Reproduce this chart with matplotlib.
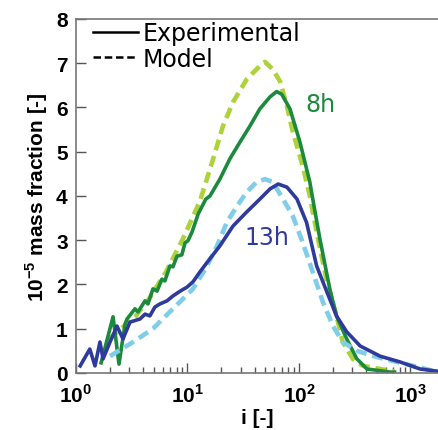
import numpy as np
import matplotlib.pyplot as plt
from matplotlib.lines import Line2D

# --[Data]----------------------------------------------------------------------
exp8_i = [1.68, 2.15, 2.43, 2.75, 2.87, 3.38, 3.6, 4.16, 4.42, 4.9, 5.33, 5.9, 6.27, 6.96, 7.41,
          8.05, 8.9, 9.5, 10.1, 11.0, 12.5, 14.6, 15.9, 19.5, 24,
          29.6, 36.3, 44.6, 55, 63, 70, 83, 102, 125, 133, 154, 189, 217, 268, 330, 408, 655, 720]
exp8_w = [0.23, 1.27, 0.2, 1.1, 1.22, 1.45, 1.38, 1.63, 1.56, 1.9, 1.85, 2.12, 2.08, 2.42, 2.4,
          2.64, 2.67, 2.94, 2.99, 3.19, 3.6, 3.93, 4.0, 4.38, 4.84,
          5.22, 5.58, 5.97, 6.24, 6.36, 6.3, 5.97, 5.22, 4.32, 3.93, 3.03, 1.9, 1.29, 0.77, 0.32, 0.09, 0.02, 0.02]

mod8_i = [1.98, 3.45, 4.5, 6.4, 9.1, 13.0, 17, 20.8, 25.6, 34, 44.6, 49.5, 58, 68, 78, 88, 108,
          125, 144, 178, 217, 247, 304, 375, 534, 720]
mod8_w = [0.77, 1.29, 1.67, 2.28, 3.03, 3.9, 4.84, 5.58, 6.12, 6.64, 6.94, 7.03, 6.87, 6.58, 6.03,
          5.45, 4.68, 4.0, 3.19, 2.06, 1.29, 0.7, 0.32, 0.16, 0.09, 0.04]

exp13_i = [1.09, 1.33, 1.48, 1.64, 1.75, 2.02, 2.33, 2.64, 3.05, 3.75, 4.16, 4.6, 5.1, 5.66, 6.55,
           7.4, 8.6, 9.9, 11.2, 12.9, 15, 19.5, 25.6, 34, 44.6, 55, 65, 78, 96, 117, 144, 178, 217,
           268, 354, 534, 805, 1220, 1740]
exp13_w = [0.16, 0.54, 0.16, 0.7, 0.32, 0.7, 1.06, 0.77, 1.15, 1.22, 1.33, 1.29, 1.49, 1.56, 1.63,
           1.74, 1.85, 1.94, 2.06, 2.28, 2.5, 2.87, 3.32, 3.64, 3.93, 4.16, 4.27, 4.2, 3.93, 3.4,
           2.42, 1.83, 1.29, 0.93, 0.61, 0.38, 0.25, 0.09, 0.04]

mod13_i = [2.02, 3.25, 4.9, 7.4, 11.2, 15, 18.4, 22.6, 27.8, 34, 41.9, 49.5, 58, 72, 88, 108, 133,
           164, 202, 247, 330, 500, 755, 1140, 1590]
mod13_w = [0.38, 0.7, 1.0, 1.45, 1.9, 2.42, 2.87, 3.41, 3.77, 4.09, 4.32, 4.38, 4.32, 3.93, 3.55,
           2.95, 2.28, 1.6, 1.06, 0.7, 0.5, 0.36, 0.25, 0.14, 0.05]

x_ticks = [1, 10, 100, 1000]
x_labels = [r'10$^{\mathbf{0}}$', r'10$^{\mathbf{1}}$', r'10$^{\mathbf{2}}$', r'10$^{\mathbf{3}}$']
y_ticks = [0, 1, 2, 3, 4, 5, 6, 7, 8]

# --[Plot]----------------------------------------------------------------------
plt.rcParams['font.family'] = ['Liberation Sans', 'DejaVu Sans']
plt.rcParams['mathtext.fontset'] = 'custom'
plt.rcParams['mathtext.rm'] = 'Liberation Sans:bold'
plt.rcParams['mathtext.bf'] = 'Liberation Sans:bold'

fig = plt.figure(figsize=(4.38, 4.31), dpi=100)
ax = fig.add_axes([0.1735, 0.1323, 0.8265, 0.8213])

dark_green = '#1b8a3c'
light_green = '#aed23a'
dark_blue = '#2f3b9c'
light_blue = '#80cdea'

ax.plot(mod8_i, mod8_w, color=light_green, lw=3.3, ls=(0, (2.4, 1.3)))
ax.plot(exp8_i, exp8_w, color=dark_green, lw=2.6)
ax.plot(mod13_i, mod13_w, color=light_blue, lw=3.3, ls=(0, (2.4, 1.3)))
ax.plot(exp13_i, exp13_w, color=dark_blue, lw=2.6)

ax.set_xscale('log')
ax.set_xlim(1, 10 ** 3.247)
ax.set_ylim(0, 8)
ax.set_xticks(x_ticks)
ax.set_xticklabels(x_labels, fontsize=15, fontweight='bold')
ax.set_yticks(y_ticks)
ax.set_yticklabels([str(v) for v in y_ticks], fontsize=15, fontweight='bold')

ax.tick_params(which='major', direction='in', length=7, width=1, color='#555555')
ax.tick_params(which='minor', direction='in', length=4, width=1, color='#555555')
ax.tick_params(axis='x', which='major', pad=7)
ax.tick_params(axis='y', which='major', pad=6)
ax.tick_params(axis='y', which='minor', left=False)

for s in ['left', 'bottom', 'top']:
    ax.spines[s].set_color('#777777')
    ax.spines[s].set_linewidth(1.2)
ax.spines['right'].set_visible(False)

ax.set_xlabel('i [-]', fontsize=15, fontweight='bold', labelpad=2)
ax.set_ylabel(r'10$^{\mathbf{-5}}$ mass fraction [-]', fontsize=15, fontweight='bold', labelpad=4)

handles = [Line2D([], [], color='black', lw=1.8),
           Line2D([], [], color='black', lw=1.8, ls=(0, (3, 1.5)))]
ax.legend(handles, ['Experimental', 'Model'], loc='upper left', frameon=False,
          prop={'family': 'DejaVu Sans', 'size': 17}, handlelength=1.9, handletextpad=0.2,
          labelspacing=0.05, borderaxespad=0.0, bbox_to_anchor=(0.02, 1.02))

ax.text(113, 6.08, '8h', color=dark_green, fontsize=17, family='DejaVu Sans', ha='left', va='center')
ax.text(32.7, 3.07, '13h', color=dark_blue, fontsize=17, family='DejaVu Sans', ha='left', va='center')

fig.savefig('out.png', dpi=100)
